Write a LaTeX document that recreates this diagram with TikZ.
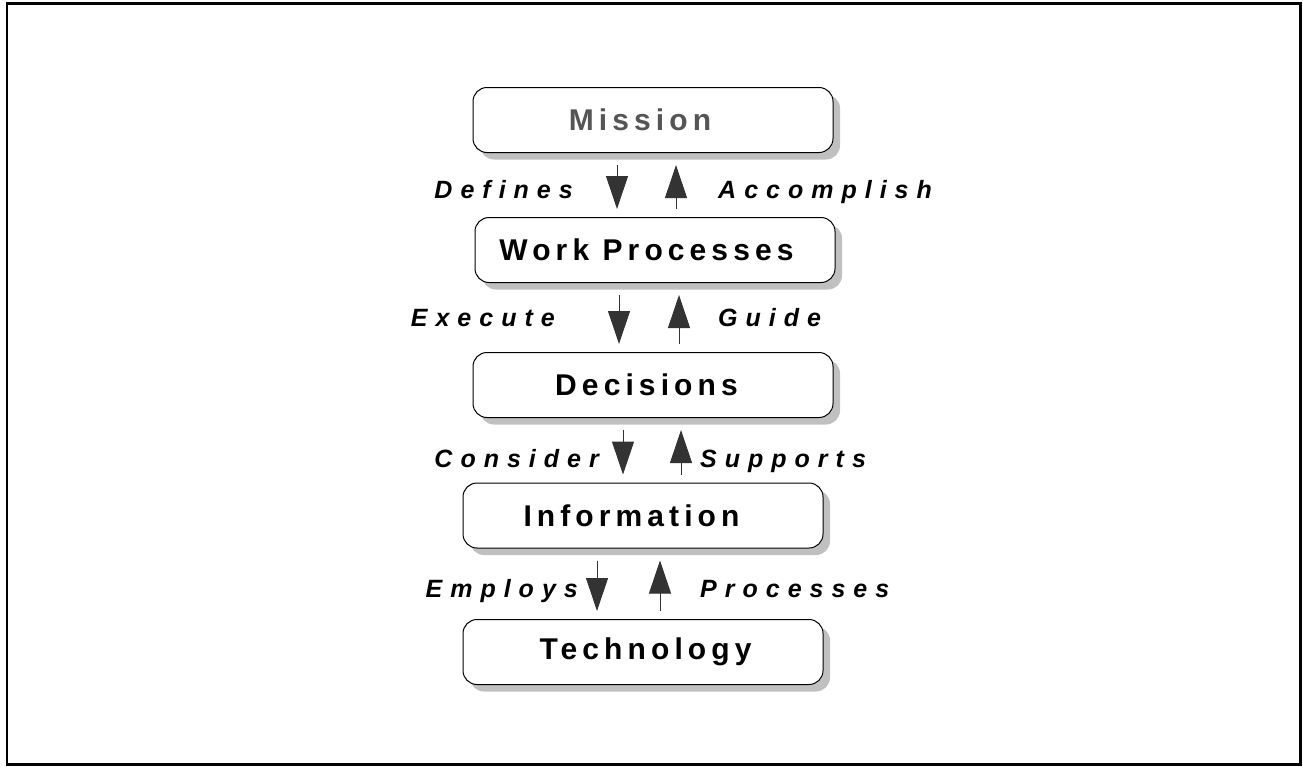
\documentclass[tikz,border=0pt]{standalone}
\usepackage{fontspec}
\setmainfont{Liberation Sans}
\usepackage{tikz}
\usetikzlibrary{arrows.meta,positioning,calc,shadows}
\definecolor{cInk}{HTML}{000000}
\definecolor{cTip}{HTML}{333333}
\definecolor{cShade}{HTML}{C0C0C0}
\definecolor{cTop}{HTML}{555555}
\newfontfamily\boxfont{Liberation Sans}[LetterSpace=17]
\newfontfamily\verbfont{Liberation Sans}[LetterSpace=32]
\tikzset{
  layer/.style  = {draw=cInk, fill=white, rounded corners=14pt, line width=1pt,
                   minimum width=360pt, minimum height=65pt, inner sep=0pt,
                   font=\boxfont\bfseries\fontsize{30}{33}\selectfont,
                   drop shadow={shadow xshift=7pt, shadow yshift=-7pt,
                                fill=cShade, draw=none, opacity=1}},
  nudge/.style  = {execute at begin node={\hspace*{#1}}},
  verb/.style   = {font=\verbfont\bfseries\itshape\fontsize{25}{28}\selectfont,
                   inner sep=0pt},
  flow/.style   = {draw=cTip, fill=cTip, line width=1pt,
                   -{Triangle[length=33pt, width=22pt]}},
  dnflow/.style = {flow, shorten <=12pt, shorten >=8pt},
  upflow/.style = {flow, shorten <=8pt, shorten >=12pt},
}

\begin{document}
\begin{tikzpicture}[x=1pt, y=-1pt]
  \useasboundingbox (0,0) rectangle (1303,766);
  \draw[line width=2.5pt] (7,3.7) rectangle (1300.5,764.5);
  % ---- the five layers ----
  \node[layer, text=cTop, nudge=-26pt] (a) at (653,120) {Mission};
  \node[layer, nudge=-17pt] (b) at (655,250)   {Work Processes};
  \node[layer, nudge=-13pt] (c) at (653,385)   {Decisions};
  \node[layer, nudge=-23pt] (d) at (643,515.5) {Information};
  \node[layer, nudge=5pt]   (e) at (643,652)   {Technology};
  % ---- arrows between layers ----
  \draw[dnflow] (617,0 |- a.south) -- (617,0 |- b.north);
  \draw[upflow] (676,0 |- b.north) -- (676,0 |- a.south);
  \draw[dnflow] (619,0 |- b.south) -- (619,0 |- c.north);
  \draw[upflow] (679,0 |- c.north) -- (679,0 |- b.south);
  \draw[dnflow] (623,0 |- c.south) -- (623,0 |- d.north);
  \draw[upflow] (681,0 |- d.north) -- (681,0 |- c.south);
  \draw[dnflow] (597,0 |- d.south) -- (597,0 |- e.north);
  \draw[upflow] (660,0 |- e.north) -- (660,0 |- d.south);
  % ---- verbs beside the arrows (anchored on the baseline) ----
  \node[verb, anchor=base east] (l1) at (573,198) {Defines};
  \node[verb, anchor=base west] (r1) at (718,198) {Accomplish};
  \node[verb, anchor=base east] (l2) at (555,326) {Execute};
  \node[verb, anchor=base west] (r2) at (718,326) {Guide};
  \node[verb, anchor=base east] (l3) at (599,467) {Consider};
  \node[verb, anchor=base west] (r3) at (700,467) {Supports};
  \node[verb, anchor=base east] (l4) at (578,597) {Employs};
  \node[verb, anchor=base west] (r4) at (700,597) {Processes};
\end{tikzpicture}
\end{document}
